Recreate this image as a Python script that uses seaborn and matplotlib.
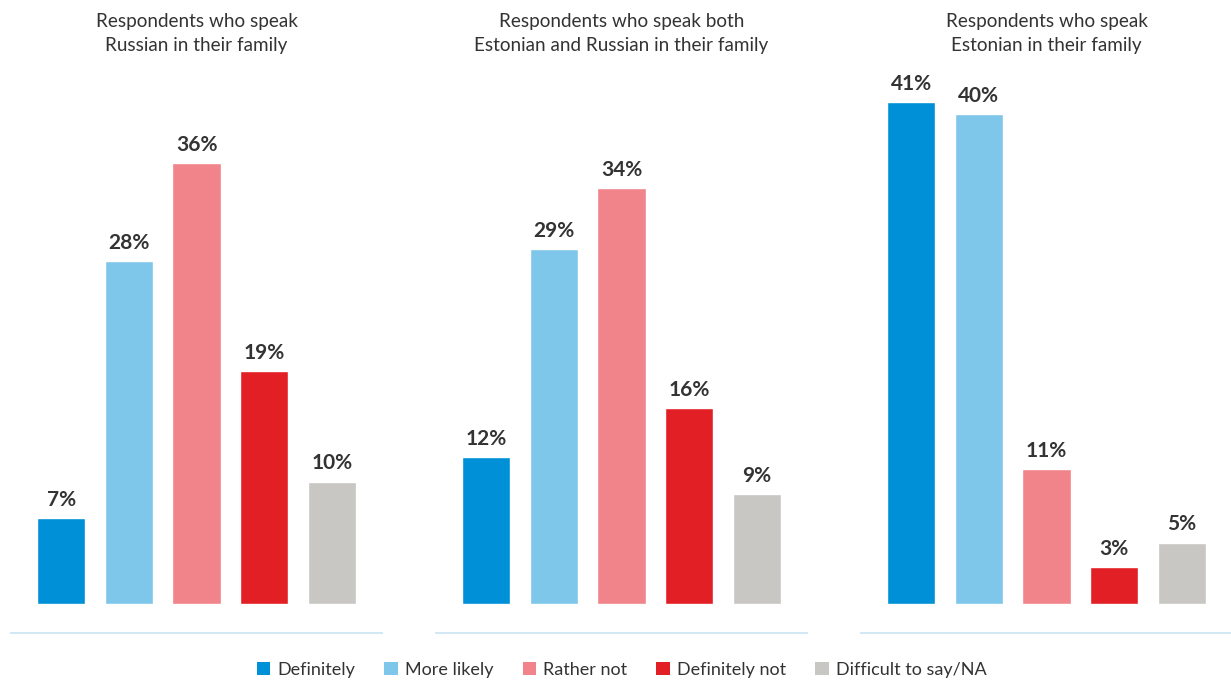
import matplotlib
matplotlib.use("Agg")
import matplotlib.pyplot as plt
import seaborn as sns
import pandas as pd
from matplotlib.patches import Patch

categories = ["Definitely", "More likely", "Rather not", "Definitely not", "Difficult to say/NA"]
titles = ["Respondents who speak\nRussian in their family",
          "Respondents who speak both\nEstonian and Russian in their family",
          "Respondents who speak\nEstonian in their family"]
russian = [7, 28, 36, 19, 10]
both = [12, 29, 34, 16, 9]
estonian = [41, 40, 11, 3, 5]
colors = ["#0090d7", "#7ec6ea", "#f0848a", "#e31f26", "#c9c7c3"]

sns.set_theme(style="white")
plt.rcParams['font.family'] = ['Lato', 'DejaVu Sans']

W, H = 1231, 681
fig = plt.figure(figsize=(W / 100, H / 100), dpi=100)

palette = dict(zip(categories, colors))
panels = [russian, both, estonian]
lefts = [11, 436, 861]
width_px = 371
scale = 12.24  # px per %
base_px = 604
axis_bottom_px = 633
ytop = 43.5
ybot = -(axis_bottom_px - base_px) / scale
top_px = base_px - ytop * scale

for vals, title, left in zip(panels, titles, lefts):
    ax = fig.add_axes([left / W, 1 - axis_bottom_px / H, width_px / W, (axis_bottom_px - top_px) / H])
    df = pd.DataFrame({"cat": categories, "val": vals})
    sns.barplot(data=df, x="cat", y="val", hue="cat", order=categories, hue_order=categories,
                palette=palette, legend=False, width=0.71, ax=ax, saturation=1)
    ax.set_xlim(-0.74, 4.74)
    ax.set_ylim(ybot, ytop)
    for i, v in enumerate(vals):
        ax.annotate(f"{v}%", (i, v), xytext=(0, 6), textcoords="offset points",
                    ha="center", va="bottom", fontsize=15, fontweight="bold", color="#333333")
    for s in ["top", "left", "right"]:
        ax.spines[s].set_visible(False)
    ax.spines["bottom"].set_color("#d3e8f5")
    ax.spines["bottom"].set_linewidth(1.5)
    ax.set_xticks([])
    ax.set_yticks([])
    ax.set_xlabel("")
    ax.set_ylabel("")
    ax.patch.set_alpha(0)
    fig.text((left + width_px / 2) / W, 1 - 33 / H, title, ha="center", va="center",
             fontsize=13.6, color="#333333", linespacing=1.5)

handles = [Patch(facecolor=c, edgecolor="none") for c in colors]
fig.legend(handles, categories, loc="center", bbox_to_anchor=(0.505, 1 - 670 / H), ncol=5,
           frameon=False, fontsize=13, handlelength=0.75, handleheight=0.75,
           handletextpad=0.4, columnspacing=1.6, labelcolor="#333333")

fig.savefig("out.png", dpi=100)
